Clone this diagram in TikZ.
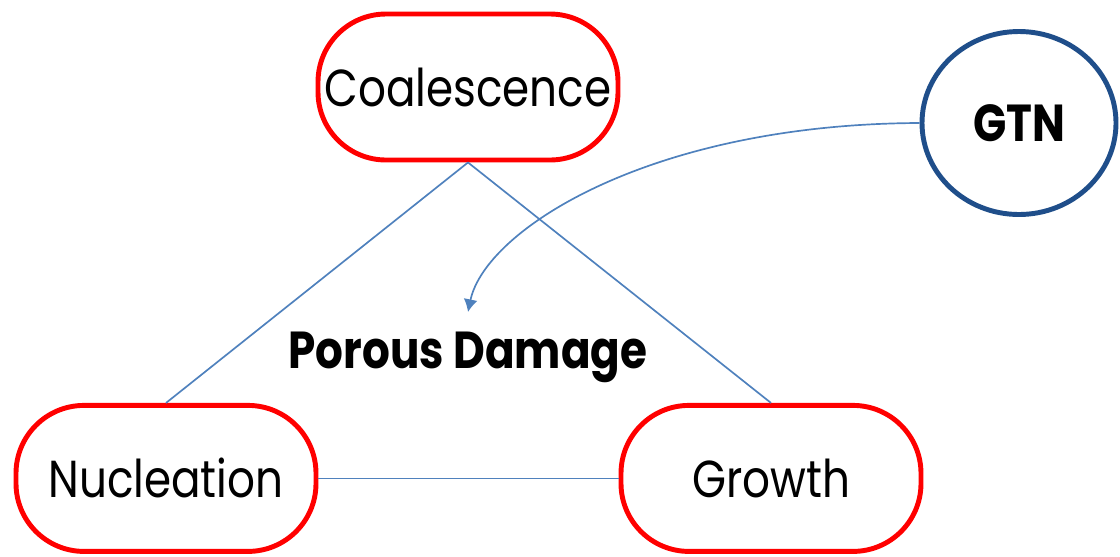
\documentclass[tikz,border=0pt]{standalone}
\usepackage{fontspec}
\setmainfont[FakeStretch=0.84]{Poppins}
\usetikzlibrary{shapes.geometric,arrows.meta}
\definecolor{linkblue}{HTML}{4F81BD}
\definecolor{gtnblue}{HTML}{1F4E8A}
\begin{document}
\begin{tikzpicture}[line join=round,>={Latex[length=9pt,width=10pt]},
  stage/.style={draw=red,line width=3.5pt,rounded corners=1.7cm,fill=white,
    minimum width=7.5cm,minimum height=3.65cm,font=\fontsize{37}{40}\selectfont},
  model/.style={ellipse,draw=gtnblue,line width=3.5pt,fill=white,
    minimum width=4.85cm,minimum height=4.575cm,font=\bfseries\fontsize{37}{40}\selectfont},
  link/.style={draw=linkblue,line width=1.2pt}]
\useasboundingbox (0,0) rectangle (28,-13.9);

\node[stage] (coal) at (11.7,-2.175) {Coalescence};
\node[stage] (nucl) at (4.15,-11.96) {Nucleation};
\node[stage] (grow) at (19.275,-11.96) {Growth};
\node[model] (gtn) at (25.475,-3.075) {GTN};
\node[font=\bfseries\fontsize{37}{40}\selectfont] (pd) at (11.7,-8.925) {Porous Damage};

\coordinate (hit) at (11.7,-7.8);

\draw[link] (coal.south) -- (nucl.north);
\draw[link] (coal.south) -- (grow.north);
\draw[link] (nucl.east) -- (grow.west);
\draw[link,->] (gtn.west) .. controls (16.25,-3.1) and (12.125,-5.75) .. (hit);
\end{tikzpicture}
\end{document}
